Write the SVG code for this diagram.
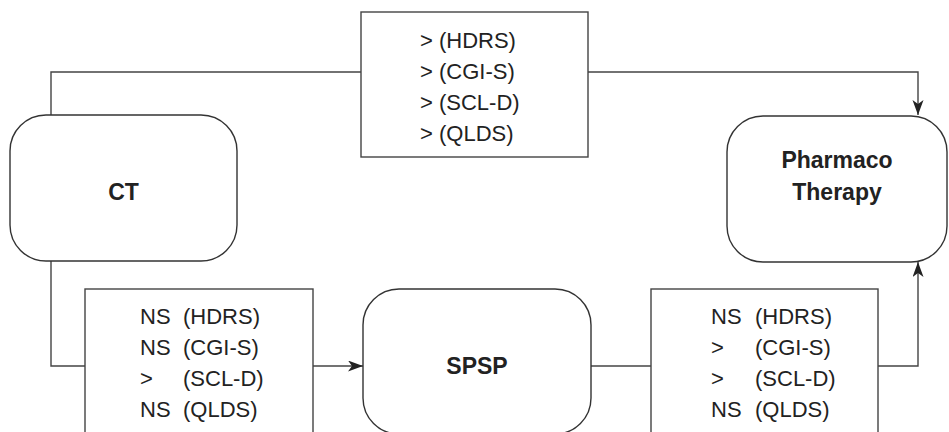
<svg xmlns="http://www.w3.org/2000/svg" width="949" height="432" viewBox="0 0 949 432">
<defs>
<style>
.node{fill:#fff;stroke:#333;stroke-width:1.4}
.box{fill:#fff;stroke:#444;stroke-width:1.4}
.edge{fill:none;stroke:#444;stroke-width:1.4}
.t{font-family:"Liberation Sans",Arial,sans-serif;font-size:22px;fill:#222}
.b{font-family:"Liberation Sans",Arial,sans-serif;font-size:23px;font-weight:bold;fill:#222;text-anchor:middle}
</style>
<marker id="arr" markerUnits="userSpaceOnUse" markerWidth="16" markerHeight="12" refX="15" refY="5.5" orient="auto">
<path d="M0,0 L15,5.5 L0,11 L4,5.5 Z" fill="#222"/>
</marker>
</defs>
<rect width="949" height="432" fill="#fff"/>
<g id="connectors">
<path class="edge" d="M51,115 V72 H361"/>
<path class="edge" d="M588,72 H918 V115" marker-end="url(#arr)"/>
<path class="edge" d="M51,261 V366 H85"/>
<path class="edge" d="M313,366 H363" marker-end="url(#arr)"/>
<path class="edge" d="M591,366 H651"/>
<path class="edge" d="M878,366 H918 V262" marker-end="url(#arr)"/>
</g>
<g id="ct">
<rect class="node" x="10" y="115" width="227" height="146" rx="36" ry="36"/>
<text class="b" x="123.5" y="200">CT</text>
</g>
<g id="pharmaco">
<rect class="node" x="727" y="116" width="220" height="146" rx="36" ry="36"/>
<text class="b" x="837" y="168">Pharmaco</text>
<text class="b" x="837" y="200">Therapy</text>
</g>
<g id="spsp">
<rect class="node" x="363" y="289" width="228" height="145" rx="36" ry="36"/>
<text class="b" x="477" y="374">SPSP</text>
</g>
<g id="top-results">
<rect class="box" x="361" y="12" width="227" height="145"/>
<text class="t" x="420" y="48">&gt; (HDRS)</text>
<text class="t" x="420" y="79">&gt; (CGI-S)</text>
<text class="t" x="420" y="110">&gt; (SCL-D)</text>
<text class="t" x="420" y="141">&gt; (QLDS)</text>
</g>
<g id="left-results">
<rect class="box" x="85" y="289" width="228" height="160"/>
<text class="t" x="140" y="324">NS</text><text class="t" x="183" y="324">(HDRS)</text>
<text class="t" x="140" y="355">NS</text><text class="t" x="183" y="355">(CGI-S)</text>
<text class="t" x="140" y="386">&gt;</text><text class="t" x="183" y="386">(SCL-D)</text>
<text class="t" x="140" y="417">NS</text><text class="t" x="183" y="417">(QLDS)</text>
</g>
<g id="right-results">
<rect class="box" x="651" y="289" width="227" height="160"/>
<text class="t" x="711" y="324">NS</text><text class="t" x="755" y="324">(HDRS)</text>
<text class="t" x="711" y="355">&gt;</text><text class="t" x="755" y="355">(CGI-S)</text>
<text class="t" x="711" y="386">&gt;</text><text class="t" x="755" y="386">(SCL-D)</text>
<text class="t" x="711" y="417">NS</text><text class="t" x="755" y="417">(QLDS)</text>
</g>
</svg>
